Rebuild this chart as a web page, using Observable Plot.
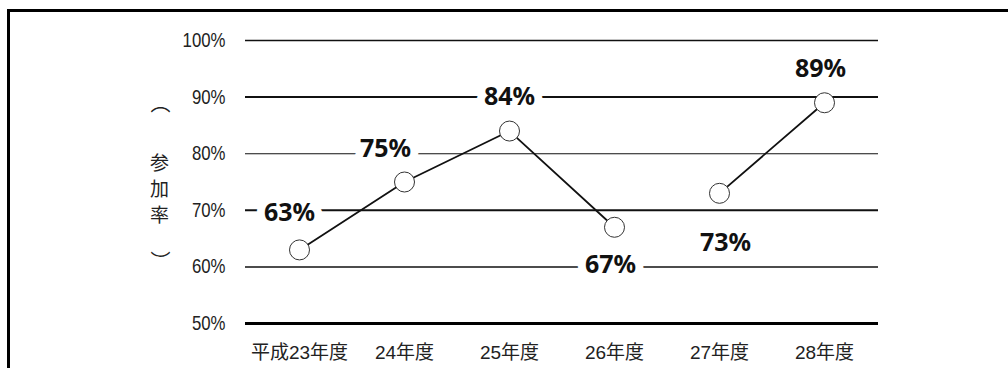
<!DOCTYPE html>
<html>
<head>
<meta charset="utf-8">
<script src="https://cdn.jsdelivr.net/npm/d3@7"></script>
<script src="https://cdn.jsdelivr.net/npm/@observablehq/plot@0.6"></script>
<style>
  html, body { margin: 0; padding: 0; background: #fff; }
  #wrap { position: relative; width: 1008px; height: 368px; overflow: hidden; }
  #border { position: absolute; left: 7px; top: 9px; width: 1100px; height: 500px;
            border-left: 3px solid #000; border-top: 3px solid #000; box-sizing: border-box; }
  #chart { position: absolute; left: 0; top: 0; }
</style>
</head>
<body>
<div id="wrap"><div id="border"></div><div id="chart"></div></div>
<script>
const years = ["平成23年度", "24年度", "25年度", "26年度", "27年度", "28年度"];
const values = [63, 75, 84, 67, 73, 89];
const segments = ["A", "A", "A", "A", "B", "B"];
const yTicks = [50, 60, 70, 80, 90, 100];
const yTitle = "参\n加\n率";
const yTitleOpen = "︵";
const yTitleClose = "︶";

const data = years.map((year, i) => ({year, value: values[i], segment: segments[i]}));

// label offsets (styling), one per point
const labelOffsets = [[-10, -37], [-19, -33], [0, -34], [-4, 38], [6, 50], [-4, -34]];

const numFont = "'Liberation Sans', Arial, sans-serif";
const jpFont = "'Liberation Sans', 'Noto Sans CJK JP', sans-serif";
const cjk = "'Noto Sans CJK JP', sans-serif";

const labelMarks = data.map((d, i) => Plot.text([d], {
  x: "year", y: "value", text: r => r.value + "%",
  dx: labelOffsets[i][0], dy: labelOffsets[i][1],
  fontSize: 25, fontWeight: "bold", fontFamily: "'Noto Sans', 'Open Sans', sans-serif",
  fill: "#111", stroke: "white", strokeWidth: 16, strokeLinejoin: "round"
}));

const chart = Plot.plot({
  width: 1008, height: 368,
  marginLeft: 245, marginRight: 130, marginTop: 40, marginBottom: 45,
  x: {type: "point", domain: years, padding: 0.5, axis: null},
  y: {domain: [50, 100], axis: null},
  style: {background: "transparent"},
  marks: [
    Plot.ruleY([100, 60], {stroke: "#111", strokeWidth: 1.5}),
    Plot.ruleY([90, 70], {stroke: "#111", strokeWidth: 2}),
    Plot.ruleY([80], {stroke: "#111", strokeWidth: 1.1}),
    Plot.ruleY([50], {stroke: "#000", strokeWidth: 3}),
    Plot.axisY(yTicks, {tickSize: 0, tickPadding: 20, tickFormat: d => d + "%",
      fontSize: 20, fontFamily: numFont, fill: "#222", label: null, className: "ytl"}),
    Plot.axisX({tickSize: 0, tickPadding: 22, fontSize: 19, fontFamily: jpFont, fill: "#222", label: null}),
    Plot.text([yTitle], {frameAnchor: "left", textAnchor: "middle", dx: -86, dy: 6,
      fontSize: 19, lineHeight: 1.37, fontFamily: cjk, fill: "#222"}),
    Plot.text([yTitleOpen], {frameAnchor: "left", textAnchor: "middle", dx: -85, dy: -77,
      fontSize: 20, fontFamily: cjk, fill: "#222"}),
    Plot.text([yTitleClose], {frameAnchor: "left", textAnchor: "middle", dx: -85, dy: 81,
      fontSize: 20, fontFamily: cjk, fill: "#222"}),
    Plot.line(data, {x: "year", y: "value", z: "segment", stroke: "#111", strokeWidth: 1.8}),
    Plot.dot(data, {x: "year", y: "value", r: 10, fill: "white", stroke: "#333", strokeWidth: 1}),
    ...labelMarks
  ]
});
// condense the y tick label glyphs horizontally (right-anchored)
d3.select(chart).selectAll("g.ytl text").each(function() {
  const t = this.getAttribute("transform") || "";
  this.setAttribute("transform", t + " scale(0.84,1)");
});
document.getElementById("chart").appendChild(chart);
</script>
</body>
</html>
